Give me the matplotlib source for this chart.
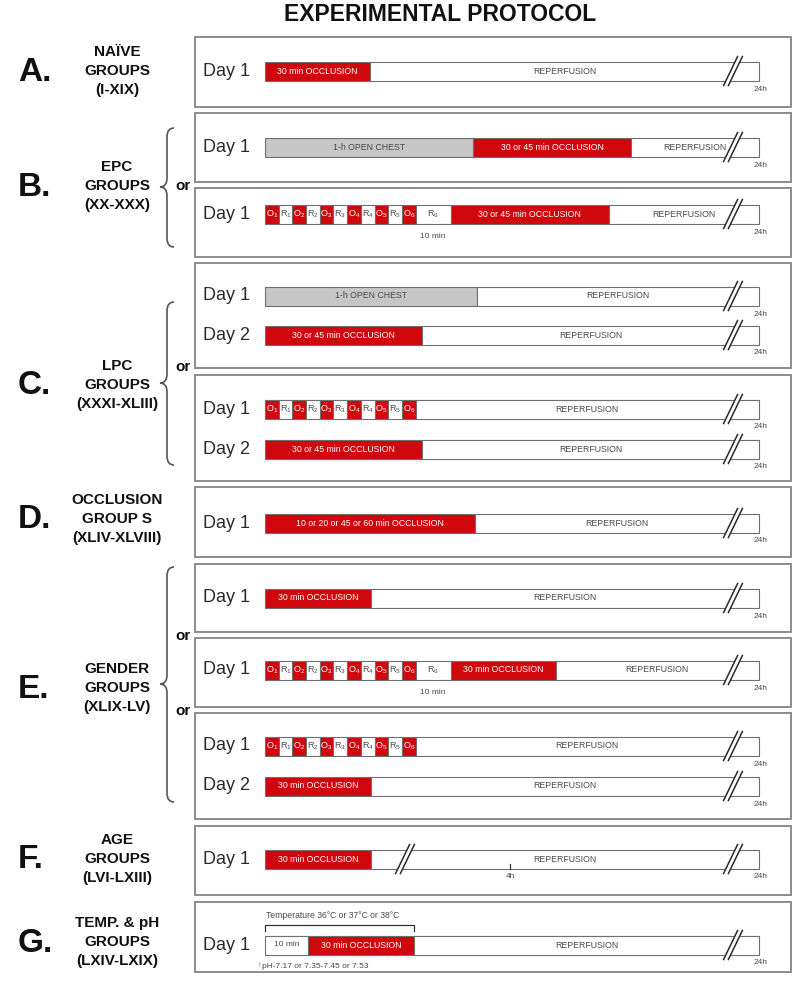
import matplotlib
matplotlib.use("Agg")
import matplotlib.pyplot as plt
from matplotlib.patches import Rectangle, Polygon, PathPatch
from matplotlib.path import Path

plt.rcParams["font.family"] = ["Liberation Sans", "DejaVu Sans"]
plt.rcParams["mathtext.fontset"] = "custom"
plt.rcParams["mathtext.rm"] = "Liberation Sans"
plt.rcParams["mathtext.it"] = "Liberation Sans"
plt.rcParams["mathtext.bf"] = "Liberation Sans:bold"

RED, OPEN_FILL, EDGE, INK, MUTED, BOX = "#d0070c", "#c6c6c6", "#6f6f6f", "#2a2a2a", "#4a4a4a", "#8c8c8c"

TITLE = "EXPERIMENTAL PROTOCOL"
GROUP_LETTERS = ["A.", "B.", "C.", "D.", "E.", "F.", "G."]
GROUP_NAMES = [
    ["NAÏVE", "GROUPS", "(I-XIX)"],
    ["EPC", "GROUPS", "(XX-XXX)"],
    ["LPC", "GROUPS", "(XXXI-XLIII)"],
    ["OCCLUSION", "GROUP S", "(XLIV-XLVIII)"],
    ["GENDER", "GROUPS", "(XLIX-LV)"],
    ["AGE", "GROUPS", "(LVI-LXIII)"],
    ["TEMP. & pH", "GROUPS", "(LXIV-LXIX)"],
]

OCC30 = "30 min OCCLUSION"
OCC3045 = "30 or 45 min OCCLUSION"
REP = "REPERFUSION"
CHEST = "1-h OPEN CHEST"
N_CYCLES = 6

# schematic segment lengths of each timeline; None = rest of the 24 h
ROW_DAYS = ["Day 1", "Day 1", "Day 1", "Day 1", "Day 2", "Day 1", "Day 2",
            "Day 1", "Day 1", "Day 1", "Day 1", "Day 2", "Day 1", "Day 1"]
ROW_SEGMENTS = [
    [("occ", 105, OCC30), ("rep", None, REP)],
    [("open", 208, CHEST), ("occ", 158, OCC3045), ("rep", None, REP)],
    [("cycles", N_CYCLES, ""), ("r6", 35, "R$_6$"), ("occ", 158, OCC3045), ("rep", None, REP)],
    [("open", 212, CHEST), ("rep", None, REP)],
    [("occ", 157, OCC3045), ("rep", None, REP)],
    [("cycles", N_CYCLES, ""), ("rep", None, REP)],
    [("occ", 157, OCC3045), ("rep", None, REP)],
    [("occ", 210, "10 or 20 or 45 or 60 min OCCLUSION"), ("rep", None, REP)],
    [("occ", 106, OCC30), ("rep", None, REP)],
    [("cycles", N_CYCLES, ""), ("r6", 35, "R$_6$"), ("occ", 105, OCC30), ("rep", None, REP)],
    [("cycles", N_CYCLES, ""), ("rep", None, REP)],
    [("occ", 106, OCC30), ("rep", None, REP)],
    [("occ", 106, OCC30), ("rep", None, REP)],
    [("pre", 43, "10 min"), ("occ", 106, OCC30), ("rep", None, REP)],
]
TEMP_NOTE = "Temperature 36°C or 37°C or 38°C"
PH_NOTE = "pH-7.17 or 7.35-7.45 or 7.53"

# layout (figure pixels, y downwards)
ROW_Y = [71, 147, 214, 296, 335, 409, 449, 523, 598, 670, 746, 786, 859, 945]
PANEL_BOXES = [(37, 107), (113, 182), (188, 257), (263, 368), (375, 481), (487, 557),
               (564, 632), (638, 707), (713, 819), (826, 895), (902, 972)]
GROUP_Y = [71, 186, 385, 519, 688, 859, 942]
BRACES = [(128, 247, 187), (302, 465, 383), (567, 802, 684)]
OR_Y = [186, 367, 636, 711]
BAR_X0, BAR_X1, BAR_H = 265, 759, 19
CYCLE_W = 13.7
BREAK_X = 733

fig = plt.figure(figsize=(8, 9.82), dpi=100)
fig.patch.set_facecolor("white")
ax = fig.add_axes([0, 0, 1, 1])
ax.set_xlim(0, 800)
ax.set_ylim(982, 0)
ax.axis("off")


def seg(left, width, y, fill, label="", tcolor=INK, size=6.3):
    ax.barh(y, width, left=left, height=BAR_H, color=fill, edgecolor=EDGE,
            linewidth=0.8, zorder=2)
    if label:
        ax.text(left + width / 2, y, label, ha="center", va="center",
                color=tcolor, fontsize=size, zorder=4)


def break_mark(x, y):
    yb, yt = y + BAR_H / 2 + 5, y - BAR_H / 2 - 5
    g = 2.4
    ax.add_patch(Polygon([(x - 7 - g, yb), (x - 7 + g, yb), (x + 7 + g, yt), (x + 7 - g, yt)],
                         closed=True, facecolor="white", edgecolor="none", zorder=5))
    for d in (-g, g):
        ax.plot([x - 7 + d, x + 7 + d], [yb, yt], color="#2a2a2a", lw=1.1, zorder=6)


def brace(y0, y1, ym, xr=174, xs=167, xt=160, r=9):
    verts = [(xr, y0), (xs, y0), (xs, y0 + r), (xs, ym - r), (xs, ym), (xt, ym),
             (xs, ym), (xs, ym + r), (xs, y1 - r), (xs, y1), (xr, y1)]
    codes = [Path.MOVETO, Path.CURVE3, Path.CURVE3, Path.LINETO, Path.CURVE3, Path.CURVE3,
             Path.CURVE3, Path.CURVE3, Path.LINETO, Path.CURVE3, Path.CURVE3]
    ax.add_patch(PathPatch(Path(verts, codes), facecolor="none", edgecolor="#555555", lw=1.2))


ax.text(440, 14, TITLE, ha="center", va="center", fontsize=16.5, fontweight="bold", color="#111111")

for top, bot in PANEL_BOXES:
    ax.add_patch(Rectangle((195, top), 596, bot - top, facecolor="none",
                           edgecolor=BOX, linewidth=1.4, zorder=1))

for letter, names, gy in zip(GROUP_LETTERS, GROUP_NAMES, GROUP_Y):
    ax.text(18, gy + 1, letter, ha="left", va="center", fontsize=24,
            fontweight="bold", color="#111111")
    for k, name in enumerate(names):
        ax.text(117, gy + (k - 1) * 19, name, ha="center", va="center",
                fontsize=11, fontweight="bold", color="#111111")

for y0, y1, ym in BRACES:
    brace(y0, y1, ym)
for oy in OR_Y:
    ax.text(183, oy, "or", ha="center", va="center", fontsize=11,
            fontweight="bold", color="#111111")

for day, segs, y in zip(ROW_DAYS, ROW_SEGMENTS, ROW_Y):
    ax.text(203, y, day, ha="left", va="center", fontsize=13, color=INK)
    x = BAR_X0
    for kind, length, label in segs:
        if kind == "cycles":
            for i in range(1, length + 1):
                seg(x, CYCLE_W, y, RED, f"O$_{i}$", "white", 6.5)
                x += CYCLE_W
                if i < length:
                    seg(x, CYCLE_W, y, "white", f"R$_{i}$", MUTED, 6.5)
                    x += CYCLE_W
            continue
        w = BAR_X1 - x if length is None else length
        if kind == "occ":
            seg(x, w, y, RED, label, "white")
        elif kind == "open":
            seg(x, w, y, OPEN_FILL, label, MUTED)
        elif kind == "r6":
            seg(x, w, y, "white", label, MUTED, 6.5)
            ax.text(x + w / 2, y + 22, "10 min", ha="center", va="center",
                    fontsize=6, color=MUTED)
        elif kind == "pre":
            seg(x, w, y, "white", label, MUTED, 6.0)
        else:
            seg(x, w, y, "white", label, MUTED)
        x += w
    break_mark(BREAK_X, y)
    ax.text(BAR_X1 + 2, y + 18, "24h", ha="center", va="center", fontsize=6, color=MUTED)

# age groups: extra break and 4 h mark
fy = ROW_Y[12]
break_mark(405, fy)
ax.plot([510, 510], [fy + BAR_H / 2, fy + BAR_H / 2 - 5], color="#333333", lw=0.9, zorder=6)
ax.text(510, fy + 18, "4h", ha="center", va="center", fontsize=6, color=MUTED)

# temperature / pH notes
gy = ROW_Y[13]
bx1 = BAR_X0 + ROW_SEGMENTS[13][0][1] + ROW_SEGMENTS[13][1][1]
ax.plot([BAR_X0, BAR_X0, bx1, bx1], [gy - 14, gy - 20, gy - 20, gy - 14], color="#333333", lw=0.9)
ax.text(BAR_X0 + 1, gy - 30, TEMP_NOTE, ha="left", va="center", fontsize=6.2, color=MUTED)
ax.text(257, gy + 20, "↑", ha="left", va="center", fontsize=5, color=MUTED)
ax.text(262, gy + 21, PH_NOTE, ha="left", va="center", fontsize=6, color=MUTED)

fig.savefig("out.png", dpi=100, facecolor="white")
